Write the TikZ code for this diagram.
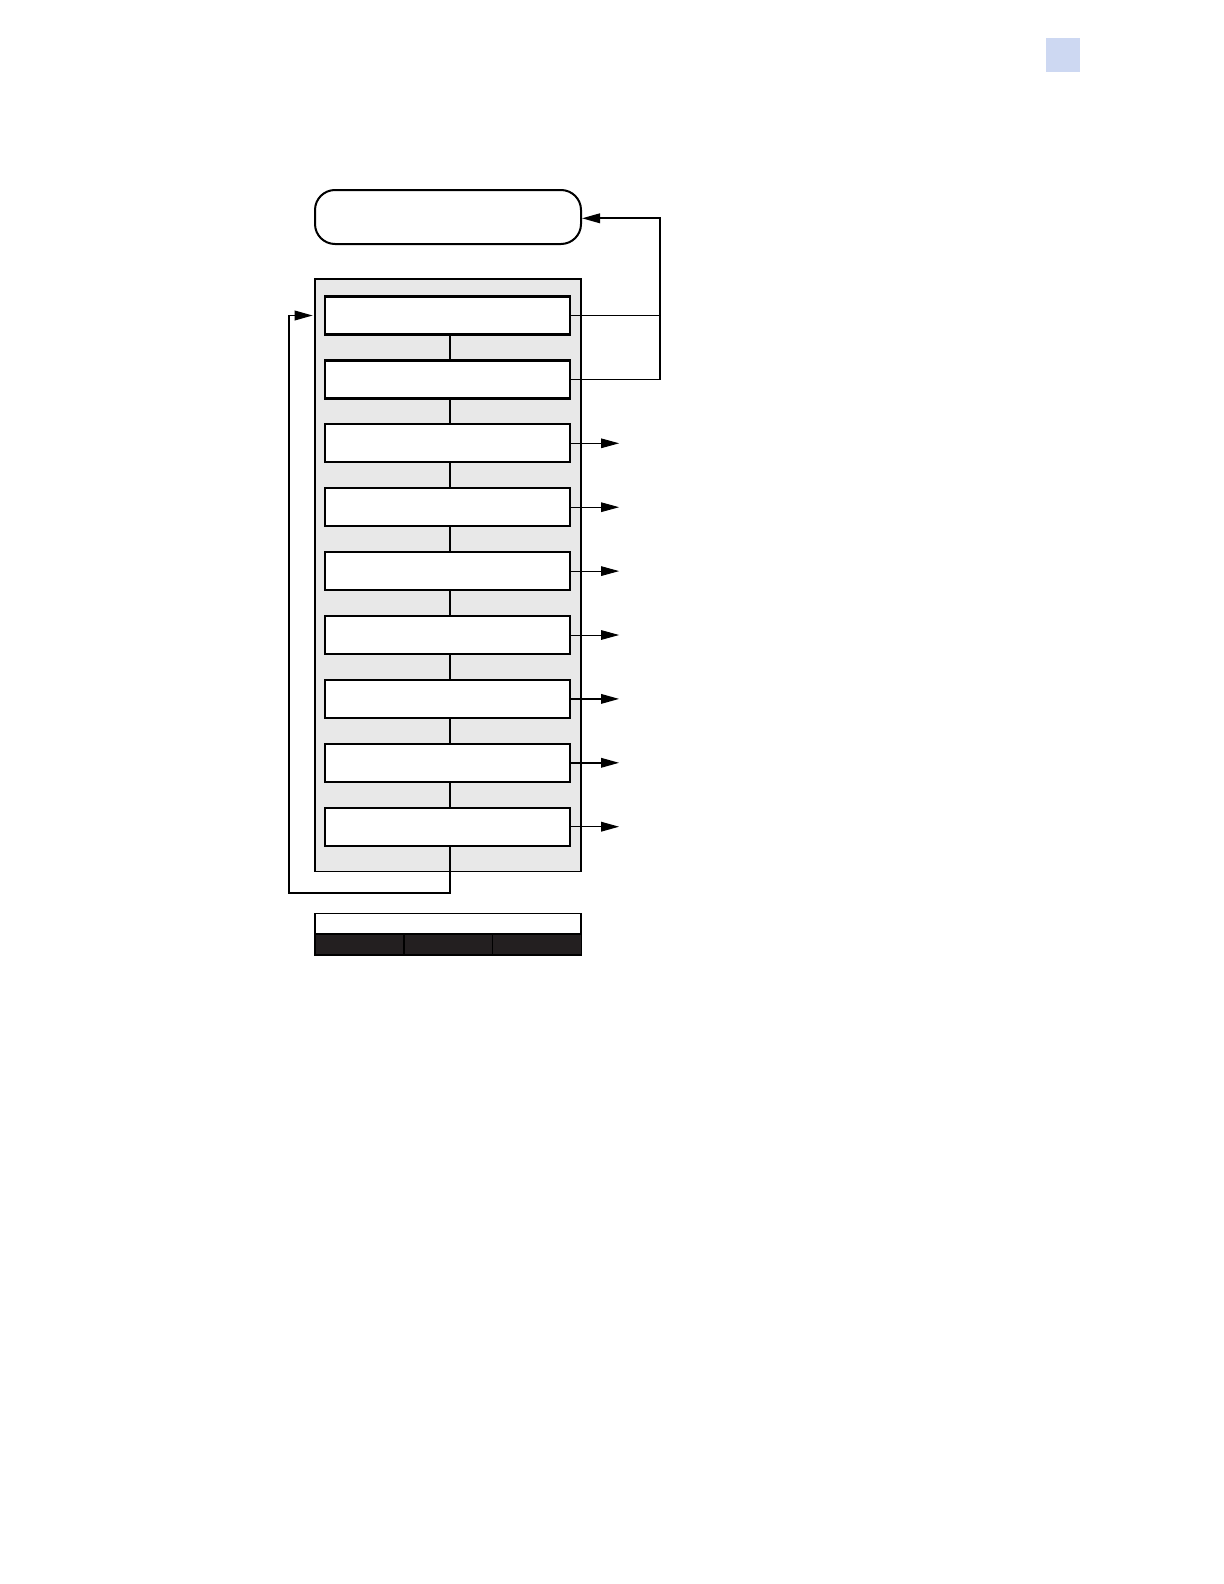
\documentclass[tikz,border=0pt]{standalone}
\usetikzlibrary{arrows.meta}
\definecolor{panelgray}{HTML}{E8E8E8}
\definecolor{tabblue}{HTML}{CDD8F2}
\definecolor{barblack}{HTML}{231F20}
\tikzstyle{item} = [draw, fill=white, line width=1.1pt, minimum width=122.5pt, minimum height=19pt, inner sep=0pt]
\tikzstyle{cell} = [draw, fill=barblack, line width=0.8pt, minimum width=44.5pt, minimum height=10.5pt, inner sep=0pt]
\tikzstyle{line} = [draw, line width=0.85pt]
\tikzstyle{midline} = [draw, line width=0.7pt]
\tikzstyle{thinline} = [draw, line width=0.45pt]
\tikzstyle{tip} = [-{Triangle[length=9pt,width=4.8pt]}]

\begin{document}
\begin{tikzpicture}[x=0.5pt,y=-0.5pt]
	\useasboundingbox[fill=white] (0,0) rectangle (1224,1584);
	\node (tab) at (1063,54.7) [fill=tabblue, minimum size=17pt, inner sep=0pt] {};
	\node (home) at (448,217) [draw, rounded corners=10pt, line width=1pt, minimum width=133pt, minimum height=27pt, inner sep=0pt] {};
	\node (panel) at (448,575.3) [draw, fill=panelgray, line width=0.85pt, minimum width=133pt, minimum height=296.3pt, inner sep=0pt] {};
	\foreach \i in {1,...,9}
		\node (item\i) at ({447.5},{315.5+63.9*(\i-1)}) [item] {};
	\foreach \i/\j in {1/2,2/3,3/4,4/5,5/6,6/7,7/8,8/9}
		\path[line] ([xshift=1.25pt]item\i.south) -- ([xshift=1.25pt]item\j.north);
	% loop back to the first item
	\coordinate (loop) at (289,892.7);
	\coordinate (entry) at (312.7,315.5);
	\path[line,tip] ([xshift=1.25pt]item9.south) |- (loop) |- (entry);
	% return to the top box
	\coordinate (back) at (660,218.3);
	\path[thinline] (item1.east) -- (item1.east -| back);
	\path[line,tip] (item2.east) -| (back) -- (home.east |- back);
	% outputs
	\foreach \i in {3,...,9}
		\path (item\i.east) ++(48,0) coordinate (out\i);
	\foreach \i in {3,...,6}
		\path[thinline,tip] (item\i.east) -- (out\i);
	\foreach \i in {7,8,9}
		\path[midline,tip] (item\i.east) -- (out\i);
	% bar below
	\node (legend) at (448,923.6) [draw, fill=white, line width=0.8pt, minimum width=133pt, minimum height=10.3pt, inner sep=0pt] {};
	\node (cell1) at (359.5,944.5) [cell] {};
	\node (cell2) at (448.3,944.5) [cell] {};
	\node (cell3) at (536.8,944.5) [cell] {};
\end{tikzpicture}
\end{document}
